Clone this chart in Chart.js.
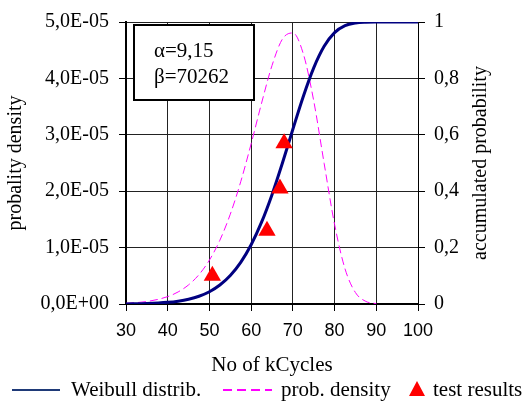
<!DOCTYPE html>
<html>
<head>
<meta charset="utf-8">
<script src="https://cdn.jsdelivr.net/npm/chart.js@4.4.1/dist/chart.umd.min.js"></script>
<style>
  html, body { margin: 0; padding: 0; background: #fff; }
  #wrap { width: 528px; height: 405px; }
</style>
</head>
<body>
<div id="wrap"><canvas id="weibullChart" width="528" height="405"></canvas></div>
<script>
// values
const kCycles = [30, 35, 40, 42.5, 45, 47.5, 50, 52.5, 55, 57.5, 60, 62.5, 65, 67.5, 70, 72.5, 75, 77.5, 80, 82.5, 85, 87.5, 90, 95, 100];
const weibullCdf = [0.0004, 0.0017, 0.0058, 0.0100, 0.0168, 0.0274, 0.0435, 0.0672, 0.1010, 0.1477, 0.2101, 0.2901, 0.3877, 0.4999, 0.6196, 0.7361, 0.8375, 0.9139, 0.9624, 0.9870, 0.9967, 0.9994, 0.9999, 1.0, 1.0];
const probDensity = [0.013e-5, 0.044e-5, 0.131e-5, 0.214e-5, 0.339e-5, 0.521e-5, 0.779e-5, 1.130e-5, 1.592e-5, 2.167e-5, 2.841e-5, 3.561e-5, 4.228e-5, 4.698e-5, 4.806e-5, 4.437e-5, 3.603e-5, 2.492e-5, 1.412e-5, 0.625e-5, 0.203e-5, 0.046e-5, 0.006e-5, null, null];
const testCycles = [50.7, 63.8, 66.9, 67.9];
const testProb = [0.10, 0.26, 0.41, 0.57];
const xTicks = [30, 40, 50, 60, 70, 80, 90, 100];
const paramLines = ['\u03b1=9,15', '\u03b2=70262'];
const legendNames = ['Weibull distrib.', 'prob. density', 'test results'];
const rightTitle = 'accumulated probability';

const serif = '"Liberation Serif", "Times New Roman", serif';
const sans = '"Liberation Sans", Arial, sans-serif';

function sciLabel(v) {
    if (Math.abs(v) < 1e-12) return '0,0E+00';
    const parts = v.toExponential(1).split('e');
    const e = parseInt(parts[1], 10);
    return parts[0].replace('.', ',') + 'E' + (e < 0 ? '-' : '+') + String(Math.abs(e)).padStart(2, '0');
}

// parameter box, right axis title (reads bottom to top) and bottom legend
const annotations = {
    id: 'annotations',
    afterDatasetsDraw(chart) {
        const ctx = chart.ctx;
        ctx.save();
        ctx.fillStyle = '#fff';
        ctx.fillRect(134, 25, 120, 75);
        ctx.strokeStyle = '#000';
        ctx.lineWidth = 2;
        ctx.strokeRect(134, 25, 120, 75);
        ctx.fillStyle = '#000';
        ctx.font = '21px ' + serif;
        ctx.textBaseline = 'middle';
        ctx.fillText(paramLines[0], 154, 51);
        ctx.fillText(paramLines[1], 154, 77);
        ctx.restore();
    },
    afterDraw(chart) {
        const ctx = chart.ctx;
        const area = chart.chartArea;
        ctx.save();
        ctx.fillStyle = '#000';
        ctx.font = '20px ' + serif;
        ctx.textBaseline = 'middle';
        ctx.textAlign = 'center';
        ctx.translate(481, (area.top + area.bottom) / 2);
        ctx.rotate(-Math.PI / 2);
        ctx.fillText(rightTitle, 0, 0);
        ctx.restore();

        const y = 390;
        ctx.save();
        ctx.font = '21px ' + serif;
        ctx.textBaseline = 'middle';
        ctx.fillStyle = '#000';

        ctx.strokeStyle = '#1f3a78';
        ctx.lineWidth = 2;
        ctx.beginPath(); ctx.moveTo(12, y); ctx.lineTo(60, y); ctx.stroke();
        ctx.fillText(legendNames[0], 71, y);

        ctx.strokeStyle = '#ff00ff';
        ctx.setLineDash([9, 5]);
        ctx.beginPath(); ctx.moveTo(223, y); ctx.lineTo(272, y); ctx.stroke();
        ctx.setLineDash([]);
        ctx.fillText(legendNames[1], 281, y);

        ctx.fillStyle = '#ff0000';
        ctx.beginPath(); ctx.moveTo(417, y - 9); ctx.lineTo(425, y + 6); ctx.lineTo(409, y + 6); ctx.closePath(); ctx.fill();
        ctx.fillStyle = '#000';
        ctx.fillText(legendNames[2], 433, y);
        ctx.restore();
    }
};

const ctx = document.getElementById('weibullChart').getContext('2d');
const weibullChart = new Chart(ctx, {
    type: 'line',
    data: {
        datasets: [{
            label: legendNames[2],
            data: testCycles.map((x, i) => ({ x: x, y: testProb[i] })),
            yAxisID: 'y1',
            showLine: false,
            pointStyle: 'triangle',
            pointRadius: 10,
            pointHoverRadius: 10,
            backgroundColor: '#ff0000',
            borderColor: '#ff0000',
            pointBorderWidth: 0
        }, {
            label: legendNames[0],
            data: kCycles.map((x, i) => ({ x: x, y: weibullCdf[i] })),
            yAxisID: 'y1',
            borderColor: '#000080',
            borderWidth: 3,
            pointRadius: 0,
            cubicInterpolationMode: 'monotone',
            fill: false
        }, {
            label: legendNames[1],
            data: kCycles.map((x, i) => ({ x: x, y: probDensity[i] })),
            yAxisID: 'y',
            borderColor: '#ff00ff',
            borderWidth: 1,
            borderDash: [8, 4],
            pointRadius: 0,
            cubicInterpolationMode: 'monotone',
            spanGaps: false,
            fill: false
        }]
    },
    options: {
        responsive: false,
        animation: false,
        devicePixelRatio: 1,
        layout: { padding: { top: 18, left: 0, right: 0, bottom: 0 } },
        plugins: {
            legend: { display: false },
            tooltip: { enabled: false }
        },
        scales: {
            x: {
                type: 'linear',
                min: 30,
                max: 100,
                afterBuildTicks: function(scale) {
                    scale.ticks = xTicks.map(v => ({ value: v }));
                },
                afterFit: function(scale) { scale.height = 101; },
                grid: { color: '#222', lineWidth: 1, tickLength: 7, tickColor: '#000' },
                border: { color: '#000', width: 2 },
                ticks: { font: { family: sans, size: 18 }, color: '#000', padding: 9, maxRotation: 0 },
                title: {
                    display: true,
                    text: 'No of kCycles',
                    font: { family: serif, size: 21 },
                    color: '#000',
                    padding: { top: 0, bottom: 27 }
                }
            },
            y: {
                position: 'left',
                min: 0,
                max: 5e-5,
                afterFit: function(scale) { scale.width = 126; },
                ticks: {
                    stepSize: 1e-5,
                    font: { family: serif, size: 20 },
                    color: '#000',
                    padding: 10,
                    callback: function(value) { return sciLabel(value); }
                },
                grid: { color: '#222', lineWidth: 1, tickLength: 7, tickColor: '#000' },
                border: { color: '#000', width: 2 },
                title: {
                    display: true,
                    text: 'probality density',
                    font: { family: serif, size: 20 },
                    color: '#000',
                    padding: { top: 4, bottom: 0 }
                }
            },
            y1: {
                position: 'right',
                min: 0,
                max: 1,
                afterFit: function(scale) { scale.width = 110; },
                ticks: {
                    stepSize: 0.2,
                    font: { family: serif, size: 20 },
                    color: '#000',
                    padding: 9,
                    callback: function(value) { return String(Math.round(value * 10) / 10).replace('.', ','); }
                },
                grid: { drawOnChartArea: false, tickLength: 7, tickColor: '#000' },
                border: { color: '#000', width: 1 },
                title: { display: false }
            }
        }
    },
    plugins: [annotations]
});
</script>
</body>
</html>
